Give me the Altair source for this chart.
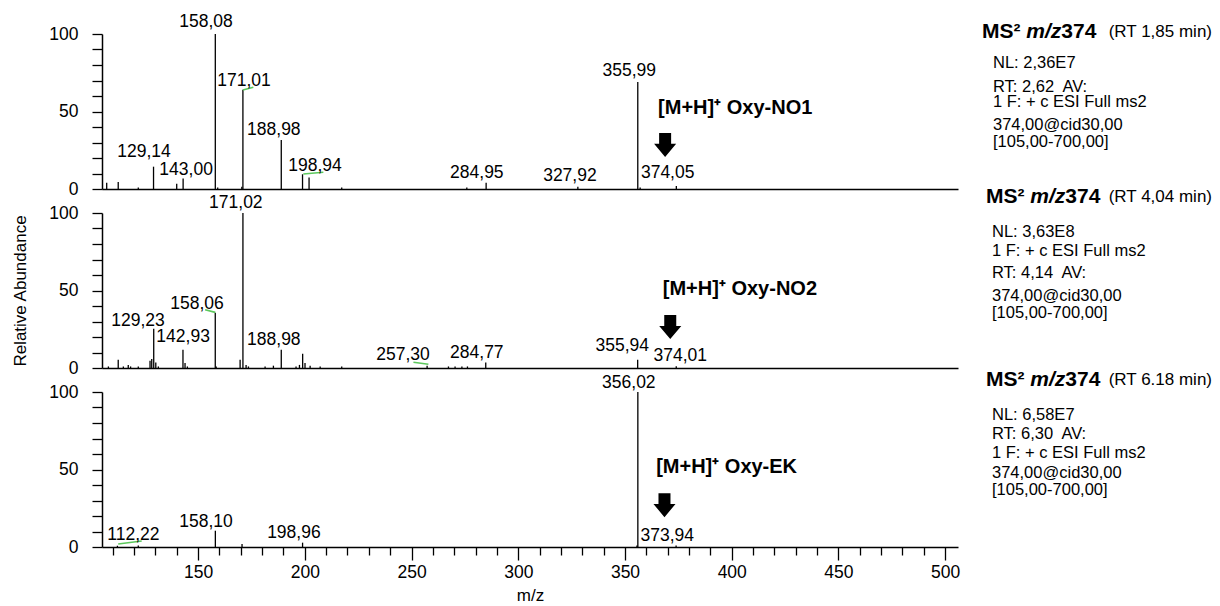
import altair as alt
import pandas as pd

FONT = "Liberation Sans"

# ---------------- spectra: m/z and relative abundance (%) ----------------
no1_mz = [107.2, 112.6, 122.0, 129.14, 140.0, 143.00, 158.08, 159.2, 170.5, 171.01,
          188.98, 198.94, 202.0, 217.3, 275.9, 284.95, 327.92, 355.99, 357.1, 374.05]
no1_ab = [4.0, 4.5, 1.0, 14.4, 3.4, 6.7, 100.0, 1.0, 1.5, 64.0,
          31.6, 9.5, 7.5, 1.0, 1.0, 4.0, 1.5, 69.0, 1.0, 2.0]

no2_mz = [108.0, 112.6, 115.0, 117.3, 118.4, 122.0, 127.5, 128.3, 129.23, 130.2,
          131.4, 142.93, 143.9, 145.0, 158.06, 158.5, 169.7, 171.02, 172.5, 173.6,
          181.4, 185.3, 188.98, 195.9, 197.5, 199.0, 200.1, 202.5, 207.2, 217.3,
          257.30, 267.3, 270.4, 273.6, 276.2, 284.77, 355.94, 374.01]
no2_ab = [1.0, 5.3, 1.0, 2.0, 1.0, 1.0, 4.7, 5.8, 25.4, 3.6,
          1.0, 11.7, 3.2, 1.0, 35.6, 1.0, 5.3, 100.0, 2.0, 1.0,
          1.0, 1.5, 11.7, 1.0, 2.0, 9.2, 3.2, 1.5, 1.0, 1.0,
          1.5, 1.0, 1.0, 1.0, 1.0, 3.6, 5.3, 1.2]

ek_mz = [112.22, 122.0, 158.10, 170.6, 198.96, 355.6, 356.02, 373.94]
ek_ab = [0.8, 1.0, 10.5, 2.0, 2.8, 1.0, 100.0, 1.0]

# labelled peaks (label text is the m/z) and label anchor (m/z, abundance level)
no1_lab_peak = [129.14, 143.00, 158.08, 171.01, 188.98, 198.94, 284.95, 327.92, 355.99, 374.05]
no1_lab_at = [124.7, 144.4, 153.7, 171.5, 185.5, 204.8, 280.6, 324.2, 352.0, 370.0]
no1_lab_lvl = [23.9, 12.3, 107.7, 69.7, 38.0, 15.0, 10.5, 8.6, 76.0, 10.3]

no2_lab_peak = [129.23, 142.93, 158.06, 171.02, 188.98, 257.30, 284.77, 355.94, 374.01]
no2_lab_at = [121.9, 143.0, 149.5, 167.7, 185.5, 246.0, 280.6, 348.7, 375.9]
no2_lab_lvl = [30.3, 20.0, 41.4, 106.4, 18.1, 8.5, 10.0, 14.3, 7.9]

ek_lab_peak = [112.22, 158.10, 198.96, 356.02, 373.94]
ek_lab_at = [119.7, 153.7, 194.9, 351.8, 369.8]
ek_lab_lvl = [7.7, 16.3, 9.2, 105.8, 7.1]

# green label connector strokes (m/z, level) -> (m/z, level)
no1_link = ([171.01, 199.3], [63.9, 9.7], [175.9, 208.7], [65.6, 10.8])
no2_link = ([158.06, 250.9], [35.9, 3.7], [153.3, 257.9], [37.6, 2.4])
ek_link = ([112.6], [1.9], [123.6], [3.9])

# precursor annotations
ion_text = ["[M+H]\u207a Oxy-NO1", "[M+H]\u207a Oxy-NO2", "[M+H]\u207a Oxy-EK"]
ion_at = [365.5, 367.7, 364.6]
ion_lvl = [52.3, 50.8, 51.6]
arrow_at = [368.8, 371.2, 368.5]
arrow_lvl = [28.4, 26.4, 27.0]

# scan header texts
head_rt = ["(RT 1,85 min)", "(RT 4,04 min)", "(RT 6.18 min)"]
info_lines = [
    ["NL: 2,36E7", "RT: 2,62\u00a0 AV:", "1 F: + c ESI Full ms2", "374,00@cid30,00", "[105,00-700,00]"],
    ["NL: 3,63E8", "1 F: + c ESI Full ms2", "RT: 4,14\u00a0 AV:", "374,00@cid30,00", "[105,00-700,00]"],
    ["NL: 6,58E7", "RT: 6,30\u00a0 AV:", "1 F: + c ESI Full ms2", "374,00@cid30,00", "[105,00-700,00]"],
]

# ---------------- layout ----------------
X_DOMAIN = [105, 506]
W, H = 856, 155
ARROW = "M-0.5,-1 L0.5,-1 L0.5,-0.1 L0.92,-0.1 L0,1 L-0.92,-0.1 L-0.5,-0.1 Z"
HEAD_X = [880, 884, 884]
HEAD_Y = [-2, -15.7, -12]
INFO_X = [891, 890, 890]
INFO_Y = [[29.3, 53.3, 68.3, 91.0, 107.7],
          [18.7, 38.0, 60.3, 83.0, 99.7],
          [23.0, 42.3, 61.3, 81.3, 98.0]]
HF = 21  # header bold size


def fmt(v):
    return f"{v:.2f}".replace(".", ",")


def x_enc(field, bottom):
    if bottom:
        ax = alt.Axis(values=list(range(110, 501, 10)),
                      labelExpr="datum.value % 50 === 0 ? datum.label : ''",
                      tickSize={"condition": {"test": "datum.value % 50 !== 0", "value": 8}, "value": 13},
                      labelPadding=3, labelOverlap=False, labelFlush=False,
                      title="m/z", titlePadding=7, grid=False)
    else:
        ax = alt.Axis(labels=False, ticks=False, title=None, grid=False)
    return alt.X(f"{field}:Q", scale=alt.Scale(domain=X_DOMAIN, nice=False, zero=False), axis=ax)


def y_enc(field, title):
    kw = dict(values=list(range(0, 101, 10)),
              labelExpr="datum.value % 50 === 0 ? datum.label : ''",
              tickSize=10, labelPadding=14, labelOverlap=False, labelFlush=False, grid=False,
              titlePadding=19)
    ax = alt.Axis(title=title, **kw) if title else alt.Axis(title=None, **kw)
    return alt.Y(f"{field}:Q", scale=alt.Scale(domain=[0, 100], nice=False, zero=True), axis=ax)


def panel(k, mz, ab, lab_peak, lab_at, lab_lvl, link, bottom, ytitle):
    xs = x_enc("mz", bottom)
    ys = y_enc("ab", ytitle)
    sticks = alt.Chart(pd.DataFrame({"mz": mz, "ab": ab})).mark_rule(
        color="black", strokeWidth=1.3).encode(x=xs, y=ys, y2=alt.datum(0))
    labdf = pd.DataFrame({"mz": lab_at, "ab": lab_lvl, "t": [fmt(v) for v in lab_peak]})
    labels = alt.Chart(labdf).mark_text(font=FONT, fontSize=17.5, color="black",
                                        align="center", baseline="middle").encode(x=xs, y=ys, text="t:N")
    linkdf = pd.DataFrame({"mz": link[0], "ab": link[1], "mz2": link[2], "ab2": link[3]})
    links = alt.Chart(linkdf).mark_rule(color="#5cc85c", strokeWidth=1.6).encode(
        x=xs, y=ys, x2="mz2:Q", y2="ab2:Q")
    ion = alt.Chart(pd.DataFrame({"mz": [ion_at[k]], "ab": [ion_lvl[k]], "t": [ion_text[k]]})).mark_text(
        font=FONT, fontSize=20, fontWeight="bold", color="black", align="left", baseline="middle"
    ).encode(x=xs, y=ys, text="t:N")
    arrow = alt.Chart(pd.DataFrame({"mz": [arrow_at[k]], "ab": [arrow_lvl[k]]})).mark_point(
        shape=ARROW, size=576, filled=True, color="black", opacity=1, strokeWidth=0).encode(x=xs, y=ys)

    one = pd.DataFrame({"d": [0]})
    xl, yh = HEAD_X[k], HEAD_Y[k]
    segs = [
        ("MS\u00b2", xl, "bold", "normal", HF, "left"),
        ("m/z", xl + 2.111 * HF, "bold", "italic", HF, "left"),
        ("374", xl + 3.778 * HF, "bold", "normal", HF, "left"),
        (head_rt[k], 1110, "normal", "normal", 17, "right"),
    ]
    texts = []
    for t, x, fw, fs, sz, al in segs:
        texts.append(alt.Chart(one).mark_text(font=FONT, fontSize=sz, fontWeight=fw, fontStyle=fs,
                                              color="black", align=al, baseline="middle").encode(
            x=alt.value(x), y=alt.value(yh), text=alt.value(t)))
    for t, y in zip(info_lines[k], INFO_Y[k]):
        texts.append(alt.Chart(one).mark_text(font=FONT, fontSize=16.5, color="black",
                                              align="left", baseline="middle").encode(
            x=alt.value(INFO_X[k]), y=alt.value(y), text=alt.value(t)))

    return alt.layer(sticks, links, labels, ion, arrow, *texts).properties(width=W, height=H)


p1 = panel(0, no1_mz, no1_ab, no1_lab_peak, no1_lab_at, no1_lab_lvl, no1_link, False, None)
p2 = panel(1, no2_mz, no2_ab, no2_lab_peak, no2_lab_at, no2_lab_lvl, no2_link, False, "Relative Abundance")
p3 = panel(2, ek_mz, ek_ab, ek_lab_peak, ek_lab_at, ek_lab_lvl, ek_link, True, None)

chart = alt.vconcat(p1, p2, p3, spacing=24, bounds="flush").properties(
    padding={"left": 11, "top": 13, "right": 3, "bottom": 3},
    background="white"
).configure_view(stroke=None).configure_axis(
    domainColor="black", tickColor="black", domainWidth=1.5, tickWidth=1.3,
    labelFont=FONT, labelFontSize=17.5, labelColor="black",
    titleFont=FONT, titleFontSize=17, titleFontWeight="normal", titleColor="black"
)

chart.save("out.html", embed_options={"renderer": "svg", "actions": False})
